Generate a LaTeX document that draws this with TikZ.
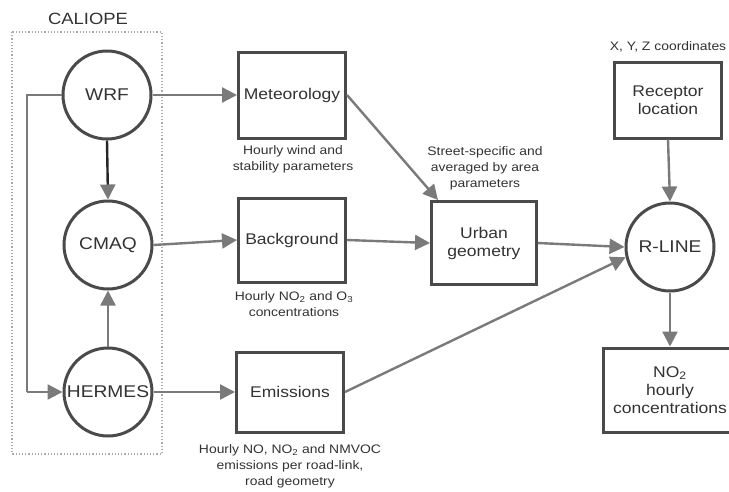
\documentclass[tikz,border=0pt]{standalone}
\usepackage{fontspec}
\setmainfont{Liberation Sans}[FakeStretch=1.13]
\usetikzlibrary{arrows.meta,calc}
\definecolor{boxc}{HTML}{4A4A4A}
\definecolor{linec}{HTML}{7A7A7A}
\definecolor{dotc}{HTML}{AAAAAA}
\definecolor{txtc}{HTML}{333333}
\begin{document}
\begin{tikzpicture}[x=1pt,y=-1pt,
  font=\fontsize{15.5}{18}\selectfont,
  model/.style={circle,draw=boxc,line width=3pt,minimum size=88pt,inner sep=0pt,text=txtc,font=\fontsize{17}{20}\selectfont},
  databox/.style={rectangle,draw=boxc,line width=3pt,minimum width=107pt,minimum height=84pt,inner sep=1pt,align=center,text=txtc},
  caption/.style={align=center,font=\fontsize{12.3}{16}\selectfont,text=txtc,inner sep=0pt},
  flow/.style={color=linec,line width=2.4pt,-{Triangle[length=15pt,width=15pt,color=linec]}},
  plain/.style={draw=linec,line width=2.4pt}]
\useasboundingbox (0,0) rectangle (729,491);
\fill[white] (0,0) rectangle (729,491);

% CALIOPE group
\node[font=\fontsize{16.3}{19}\selectfont,text=txtc] (cal) at (88,19) {CALIOPE};
\draw[dotc,dotted,line width=1.2pt] (12,32) rectangle (162,454);

\node[model] (wrf) at (107,95) {WRF};
\node[model] (cmaq) at (108,245) {CMAQ};
\node[model] (hermes) at (108,392) {HERMES};

\node[databox,minimum height=86pt] (met) at (292,95) {Meteorology};
\node[databox] (bg) at (292,240) {Background};
\node[databox,minimum height=80pt] (em) at (290,392) {Emissions};
\node[databox,minimum width=105pt,minimum height=83pt] (urb) at (484,243) {Urban\\geometry};
\node[databox,minimum height=76pt] (rec) at (668,100) {Receptor\\location};
\node[model] (rline) at (670,247) {R-LINE};
\node[databox,minimum width=134pt] (no2) at (670,390) {NO\textsubscript{2}\\hourly\\concentrations};

% captions
\node[caption] (cmet) at (293,159) {Hourly wind and\\stability parameters};
\node[caption] (curb) at (485,168) {Street-specific and\\averaged by area\\parameters};
\node[caption] (crec) at (668,47) {X, Y, Z coordinates};
\node[caption] (cbg) at (294,304) {Hourly NO\textsubscript{2} and O\textsubscript{3}\\concentrations};
\node[caption] (cem) at (290,466) {Hourly NO, NO\textsubscript{2} and NMVOC\\emissions per road-link,\\road geometry};

% connectors
\coordinate (fbTop) at (27,95);
\coordinate (fbBot) at (27,392);
\draw[plain,line join=miter] (wrf.west) -- (fbTop) -- (fbBot);
\draw[flow] (fbBot) -- (hermes.west);
\draw[flow] (wrf.east) -- (met.west);
\draw[flow,draw=black!85] (wrf.south) -- (cmaq.north);
\draw[flow] (hermes.north) -- (cmaq.south);
\draw[flow] (cmaq.east) -- (bg.west);
\draw[flow] (hermes.east) -- (em.west);
\draw[flow] (met.east) -- ($(urb.north west)+(8,0)$);
\draw[flow] (bg.east) -- (urb.west);
\draw[flow] (urb.east) -- (rline.west);
\draw[flow] (em.east) -- (rline.193);
\draw[flow] (rec.south) -- (rline.north);
\draw[flow] (rline.south) -- (no2.north);
\end{tikzpicture}
\end{document}
